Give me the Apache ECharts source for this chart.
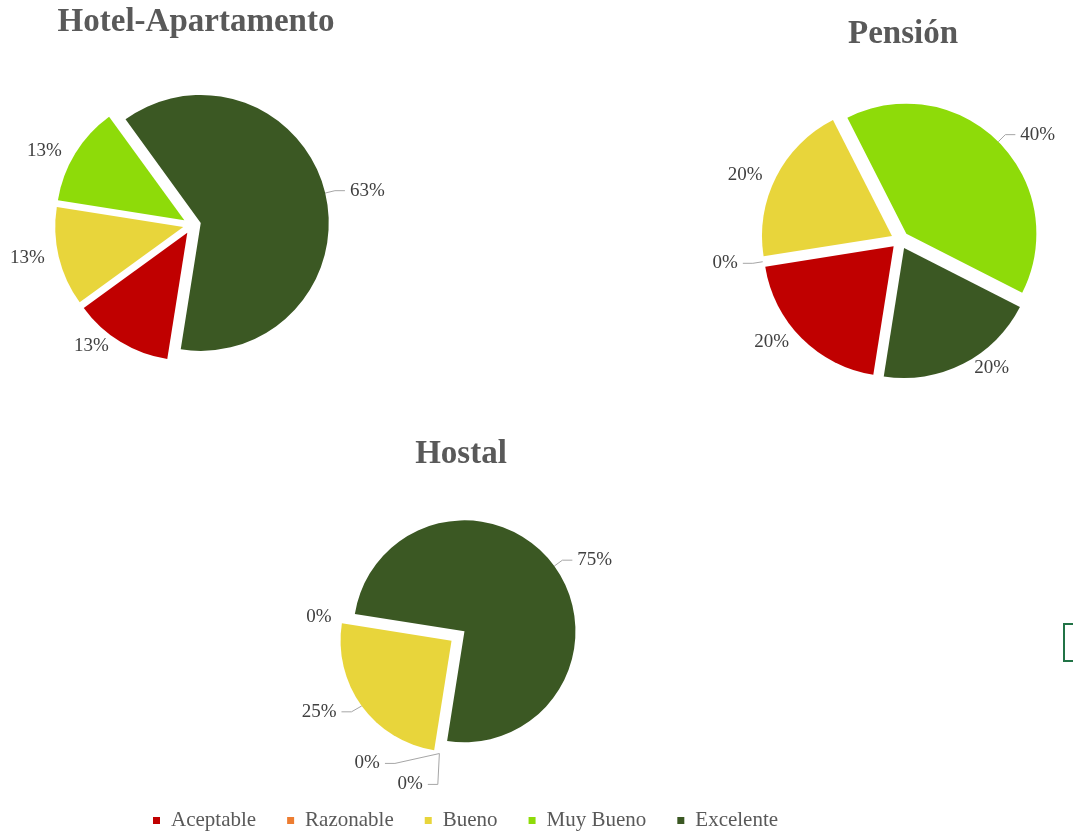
<!DOCTYPE html>
<html>
<head>
<meta charset="utf-8">
<script src="https://cdn.jsdelivr.net/npm/echarts@6/dist/echarts.min.js"></script>
<style>
html,body{margin:0;padding:0;background:#fff;}
#chart{width:1073px;height:836px;}
</style>
</head>
<body>
<div id="chart"></div>
<script>
const categories = ['Aceptable', 'Razonable', 'Bueno', 'Muy Bueno', 'Excelente'];
const colors = ['#C00000', '#ED7D31', '#E8D53B', '#8EDB09', '#3B5823'];
const hotelValues = [1, 0, 1, 1, 5];
const pensionValues = [1, 0, 1, 2, 1];
const hostalValues = [0, 0, 1, 0, 3];
const chartTitles = ['Hotel-Apartamento', 'Pensión', 'Hostal'];
// which labels show a leader line (reference)
const hotelLines = [false, false, false, false, true];
const pensionLines = [false, true, false, true, false];
const hostalLines = [true, true, true, false, true];

const serif = '"Liberation Serif", "DejaVu Serif", serif';
const chart = echarts.init(document.getElementById('chart'), null, {renderer: 'canvas'});

function buildData(values, lines, hideZero) {
  return categories.map((name, i) => ({
    name: name,
    value: values[i],
    selected: true,
    itemStyle: {color: colors[i]},
    label: {show: !(hideZero && values[i] === 0)},
    labelLine: lines[i] ? {show: true, length: 10, length2: 10} : {show: false, length: 5, length2: 4}
  }));
}

function pieSeries(values, lines, hideZero, center, radius, offset) {
  return {
    type: 'pie',
    center: center,
    radius: radius,
    startAngle: 261,
    clockwise: true,
    selectedMode: 'multiple',
    selectedOffset: offset,
    avoidLabelOverlap: true,
    animation: false,
    silent: true,
    select: {itemStyle: {}},
    label: {
      position: 'outside',
      formatter: p => Math.round(p.percent) + '%',
      fontFamily: serif,
      fontSize: 19,
      color: '#404040',
      bleedMargin: 2
    },
    labelLine: {
      length: 10,
      length2: 10,
      lineStyle: {color: '#A6A6A6', width: 1}
    },
    itemStyle: {borderWidth: 0},
    data: buildData(values, lines, hideZero)
  };
}

const titleStyle = {fontFamily: serif, fontWeight: 'bold', fontSize: 33, color: '#595959'};

const option = {
  backgroundColor: '#ffffff',
  title: [
    {text: chartTitles[0], left: 196, top: 6, textAlign: 'center', padding: 0, textStyle: titleStyle},
    {text: chartTitles[1], left: 903, top: 18, textAlign: 'center', padding: 0, textStyle: titleStyle},
    {text: chartTitles[2], left: 461, top: 438, textAlign: 'center', padding: 0, textStyle: titleStyle}
  ],
  legend: {
    data: categories,
    left: 148,
    top: 805,
    icon: 'rect',
    itemWidth: 7,
    itemHeight: 7,
    itemGap: 31,
    selectedMode: false,
    textStyle: {fontFamily: serif, fontSize: 21, color: '#595959', padding: [0, 0, 0, 6]}
  },
  graphic: [
    {type: 'rect', shape: {x: 1064, y: 624, width: 20, height: 37}, style: {fill: 'none', stroke: '#217346', lineWidth: 2}}
  ],
  series: [
    pieSeries(hotelValues, hotelLines, true, [192, 225], 128, 9),
    pieSeries(pensionValues, pensionLines, false, [900, 240], 130, 9),
    pieSeries(hostalValues, hostalLines, false, [458, 636], 111, 8)
  ]
};
chart.setOption(option);
</script>
</body>
</html>
